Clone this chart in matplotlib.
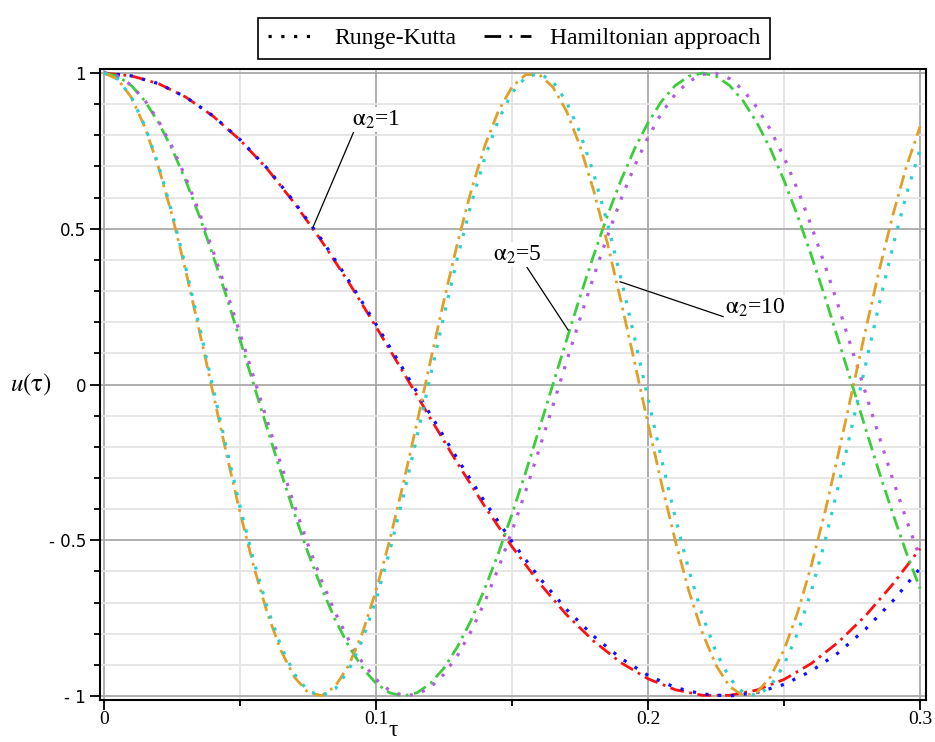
import numpy as np
import matplotlib.pyplot as plt
from matplotlib.lines import Line2D
from matplotlib.ticker import MultipleLocator, FixedLocator, FixedFormatter

plt.rcParams['mathtext.fontset'] = 'stix'

# alpha_2 = 1, step 0.01
tau1 = [0.00, 0.01, 0.02, 0.03, 0.04, 0.05, 0.06, 0.07, 0.08, 0.09,
        0.10, 0.11, 0.12, 0.13, 0.14, 0.15, 0.16, 0.17, 0.18, 0.19,
        0.20, 0.21, 0.22, 0.23, 0.24, 0.25, 0.26, 0.27, 0.28, 0.29, 0.30]
u1_ham = [1.000, 0.991, 0.966, 0.923, 0.862, 0.785, 0.692, 0.582, 0.460, 0.327,
          0.185, 0.039, -0.109, -0.254, -0.392, -0.521, -0.637, -0.739, -0.824, -0.893,
          -0.945, -0.980, -0.998, -0.998, -0.981, -0.947, -0.896, -0.827, -0.742, -0.641, -0.527]
u1_rk = [1.000, 0.991, 0.966, 0.923, 0.863, 0.786, 0.694, 0.585, 0.465, 0.333,
         0.193, 0.049, -0.097, -0.240, -0.377, -0.505, -0.620, -0.722, -0.808, -0.879,
         -0.934, -0.973, -0.994, -1.000, -0.989, -0.963, -0.920, -0.861, -0.785, -0.695, -0.590]

# alpha_2 = 5 and 10, step 0.005
tau2 = [0.000, 0.005, 0.010, 0.015, 0.020, 0.025, 0.030, 0.035, 0.040, 0.045,
        0.050, 0.055, 0.060, 0.065, 0.070, 0.075, 0.080, 0.085, 0.090, 0.095,
        0.100, 0.105, 0.110, 0.115, 0.120, 0.125, 0.130, 0.135, 0.140, 0.145,
        0.150, 0.155, 0.160, 0.165, 0.170, 0.175, 0.180, 0.185, 0.190, 0.195,
        0.200, 0.205, 0.210, 0.215, 0.220, 0.225, 0.230, 0.235, 0.240, 0.245,
        0.250, 0.255, 0.260, 0.265, 0.270, 0.275, 0.280, 0.285, 0.290, 0.295, 0.300]
u5_ham = [1.000, 0.990, 0.960, 0.910, 0.841, 0.756, 0.655, 0.541, 0.415, 0.282,
          0.142, 0.000, -0.142, -0.282, -0.415, -0.541, -0.655, -0.756, -0.841, -0.910,
          -0.960, -0.990, -1.000, -0.990, -0.960, -0.910, -0.841, -0.756, -0.655, -0.541,
          -0.415, -0.282, -0.142, 0.000, 0.142, 0.282, 0.415, 0.541, 0.655, 0.756,
          0.841, 0.910, 0.960, 0.990, 1.000, 0.990, 0.960, 0.910, 0.841, 0.756,
          0.655, 0.541, 0.415, 0.282, 0.142, 0.000, -0.142, -0.282, -0.415, -0.541, -0.655]
u5_rk = [1.000, 0.990, 0.961, 0.912, 0.846, 0.763, 0.664, 0.553, 0.430, 0.300,
         0.163, 0.023, -0.118, -0.256, -0.389, -0.515, -0.630, -0.733, -0.821, -0.893,
         -0.947, -0.983, -0.999, -0.995, -0.972, -0.930, -0.869, -0.791, -0.697, -0.589,
         -0.470, -0.342, -0.207, -0.068, 0.073, 0.212, 0.347, 0.475, 0.594, 0.701,
         0.794, 0.872, 0.932, 0.973, 0.996, 0.999, 0.982, 0.945, 0.890, 0.818,
         0.729, 0.625, 0.510, 0.384, 0.251, 0.112, -0.028, -0.168, -0.305, -0.435, -0.557]
u10_ham = [1.000, 0.980, 0.922, 0.826, 0.698, 0.543, 0.365, 0.173, -0.025, -0.223,
           -0.412, -0.584, -0.734, -0.854, -0.940, -0.989, -0.999, -0.969, -0.901, -0.797,
           -0.661, -0.500, -0.318, -0.124, 0.076, 0.272, 0.457, 0.624, 0.767, 0.879,
           0.956, 0.995, 0.995, 0.955, 0.878, 0.765, 0.623, 0.455, 0.269, 0.073,
           -0.126, -0.320, -0.501, -0.663, -0.798, -0.902, -0.970, -0.999, -0.989, -0.939,
           -0.852, -0.732, -0.582, -0.411, -0.221, -0.023, 0.176, 0.367, 0.544, 0.700, 0.828]
u10_rk = [1.000, 0.981, 0.923, 0.830, 0.704, 0.551, 0.376, 0.187, -0.009, -0.205,
          -0.393, -0.566, -0.717, -0.840, -0.930, -0.984, -1.000, -0.977, -0.916, -0.819,
          -0.691, -0.535, -0.359, -0.169, 0.028, 0.223, 0.410, 0.581, 0.729, 0.850,
          0.937, 0.987, 0.999, 0.973, 0.908, 0.808, 0.677, 0.520, 0.342, 0.151,
          -0.046, -0.241, -0.427, -0.596, -0.742, -0.859, -0.943, -0.990, -0.999, -0.968,
          -0.900, -0.798, -0.664, -0.505, -0.325, -0.133, 0.064, 0.259, 0.443, 0.611, 0.754]

x_ticks = [0, 0.1, 0.2, 0.3]
x_labels = ['0', '0.1', '0.2', '0.3']
y_ticks = [-1, -0.5, 0, 0.5, 1]
y_labels = ['- 1', '- 0.5', '0', '0.5', '1']

ham_ls = (0, (5, 2, 1, 2))
rk_ls = (0, (1, 3))

fig = plt.figure(figsize=(9.35, 7.42), dpi=100)
ax = fig.add_axes([0.107, 0.0566, 0.8834, 0.8504])

ax.plot(tau1, u1_ham, color='#ff1010', lw=2, ls=ham_ls)
ax.plot(tau1, u1_rk, color='#1010ff', lw=2.3, ls=rk_ls)
ax.plot(tau2, u5_ham, color='#3ccc3c', lw=2, ls=ham_ls)
ax.plot(tau2, u5_rk, color='#b45ae0', lw=2.3, ls=rk_ls)
ax.plot(tau2, u10_ham, color='#e0a028', lw=2, ls=ham_ls)
ax.plot(tau2, u10_rk, color='#28d0d0', lw=2.3, ls=rk_ls)

ax.set_xlim(-0.0015, 0.3022)
ax.set_ylim(-1.013, 1.013)

ax.xaxis.set_major_locator(FixedLocator(x_ticks))
ax.xaxis.set_major_formatter(FixedFormatter(x_labels))
ax.xaxis.set_minor_locator(MultipleLocator(0.05))
ax.yaxis.set_major_locator(FixedLocator(y_ticks))
ax.yaxis.set_major_formatter(FixedFormatter(y_labels))
ax.yaxis.set_minor_locator(MultipleLocator(0.1))

ax.set_axisbelow(True)
ax.grid(which='major', color='#a9a9a9', lw=1.3)
ax.grid(which='minor', color='#e4e4e4', lw=1.3)

ax.tick_params(which='major', direction='out', length=7, width=1.3, top=False, right=False)
ax.tick_params(which='minor', direction='out', length=4, width=1.3, top=False, right=False)
ax.tick_params(axis='x', which='major', pad=1)
ax.tick_params(axis='y', which='major', pad=3)
for lab in ax.get_xticklabels():
    lab.set_family('Liberation Serif')
    lab.set_fontsize(14)
for lab in ax.get_yticklabels():
    lab.set_family('DejaVu Sans')
    lab.set_fontsize(12)
for s in ax.spines.values():
    s.set_linewidth(1.5)

fig.text(0.033, 0.481, r'$u(\mathrm{\tau})$', fontsize=18, ha='center', va='center')
fig.text(0.421, 0.016, 'τ', family='Liberation Serif', fontsize=17, ha='center', va='center')

# labels for the curve groups
notes = [
    (r'$\mathrm{\alpha}_2$=1', (0.0912, 0.851), (0.0922, 0.820), (0.0768, 0.505)),
    (r'$\mathrm{\alpha}_2$=5', (0.1430, 0.417), (0.1555, 0.376), (0.1706, 0.175)),
    (r'$\mathrm{\alpha}_2$=10', (0.2283, 0.247), (0.2276, 0.218), (0.1897, 0.330)),
]
for txt, tpos, p0, p1 in notes:
    ax.plot([p0[0], p1[0]], [p0[1], p1[1]], color='black', lw=0.9)
    ax.text(tpos[0], tpos[1], txt, family='Liberation Serif', fontsize=17,
            ha='left', va='center', bbox=dict(facecolor='white', edgecolor='none', pad=1))

handles = [Line2D([], [], color='black', lw=2.3, ls=rk_ls),
           Line2D([], [], color='black', lw=2, ls=(0, (6, 3, 1, 3)))]
leg = fig.legend(handles, ['Runge-Kutta', 'Hamiltonian approach'], loc='upper center',
                 bbox_to_anchor=(0.550, 0.991), ncol=2, fancybox=False, framealpha=1,
                 edgecolor='black', handlelength=2.0, columnspacing=1.2,
                 prop={'family': 'Liberation Serif', 'size': 17})
leg.get_frame().set_linewidth(1.2)

fig.savefig('out.png', dpi=100)
